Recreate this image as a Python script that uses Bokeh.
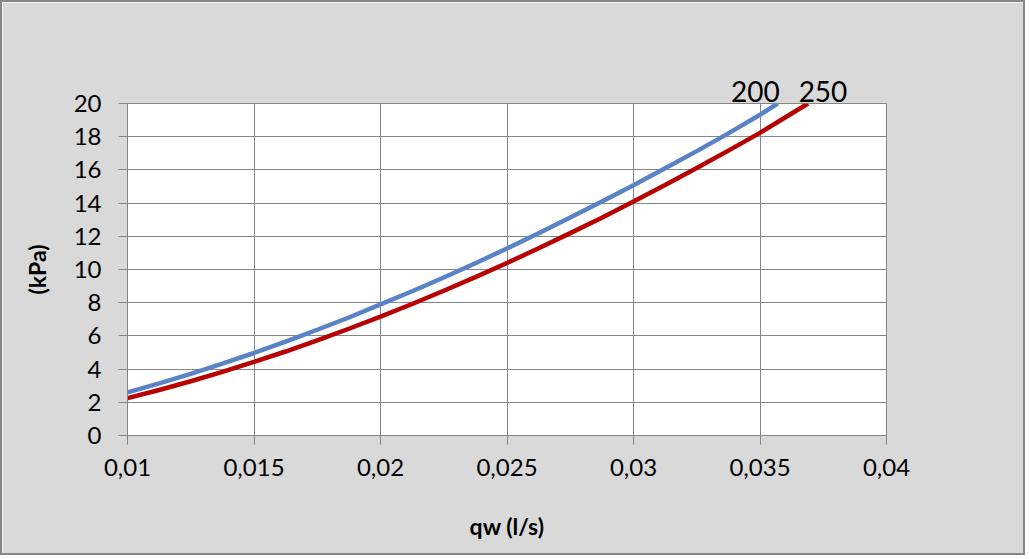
from bokeh.plotting import figure
from bokeh.models import FixedTicker, Range1d, LinearAxis
from bokeh.embed import file_html
from bokeh.resources import INLINE

# data
qw_200 = [0.01, 0.01125, 0.0125, 0.01375, 0.015, 0.01625, 0.0175, 0.01875, 0.02, 0.02125,
          0.0225, 0.02375, 0.025, 0.02625, 0.0275, 0.02875, 0.03, 0.03125, 0.0325, 0.03375,
          0.035, 0.0357]
kpa_200 = [2.6, 3.14, 3.71, 4.33, 4.97, 5.65, 6.37, 7.11, 7.9, 8.69,
           9.52, 10.38, 11.27, 12.18, 13.13, 14.09, 15.08, 16.1, 17.13, 18.2,
           19.32, 20.0]

qw_250 = [0.01, 0.01125, 0.0125, 0.01375, 0.015, 0.01625, 0.0175, 0.01875, 0.02, 0.02125,
          0.0225, 0.02375, 0.025, 0.02625, 0.0275, 0.02875, 0.03, 0.03125, 0.0325, 0.03375,
          0.035, 0.03625, 0.0369]
kpa_250 = [2.25, 2.74, 3.27, 3.83, 4.43, 5.06, 5.73, 6.43, 7.16, 7.92,
           8.72, 9.54, 10.39, 11.28, 12.19, 13.12, 14.09, 15.09, 16.11, 17.16,
           18.23, 19.4, 20.0]

series_names = ["200", "250"]
x_ticks = [0.01, 0.015, 0.02, 0.025, 0.03, 0.035, 0.04]
x_tick_labels = ["0,01", "0,015", "0,02", "0,025", "0,03", "0,035", "0,04"]
y_ticks = [0, 2, 4, 6, 8, 10, 12, 14, 16, 18, 20]
y_tick_labels = [str(v) for v in y_ticks]

FONT = "Lato"
GRID = "#868686"
BG = "#d9d9d9"

p = figure(width=1025, height=555, output_backend="svg", toolbar_location=None,
           x_range=Range1d(0.01, 0.04), y_range=Range1d(0, 20),
           min_border_left=125, min_border_right=141, min_border_top=101, min_border_bottom=122)
p.styles = {"border": "2px solid #868686"}
p.background_fill_color = "white"
p.border_fill_color = BG
p.outline_line_color = GRID
p.outline_line_width = 1

for ax in (p.xaxis[0], p.yaxis[0]):
    ax.axis_line_color = GRID
    ax.axis_line_width = 1
    ax.major_tick_line_color = GRID
    ax.major_tick_out = 9
    ax.major_tick_in = 0
    ax.minor_tick_line_color = None
    ax.major_label_text_font = FONT
    ax.major_label_text_font_size = "24px"
    ax.major_label_text_color = "black"
    ax.axis_label_text_font = FONT
    ax.axis_label_text_font_style = "bold"
    ax.axis_label_text_font_size = "23px"
    ax.axis_label_text_color = "black"

p.xaxis.ticker = FixedTicker(ticks=x_ticks)
p.xaxis.major_label_overrides = dict(zip(x_ticks, x_tick_labels))
p.yaxis.ticker = FixedTicker(ticks=y_ticks)
p.yaxis.major_label_overrides = dict(zip(y_ticks, y_tick_labels))
p.xaxis.axis_label = "qw (l/s)"
p.yaxis.axis_label = "(kPa)"
p.xaxis.major_label_standoff = 14
p.yaxis.major_label_standoff = 17
p.xaxis.axis_label_standoff = 33
p.yaxis.axis_label_standoff = 20

p.xgrid.grid_line_color = GRID
p.ygrid.grid_line_color = GRID
p.xgrid.ticker = FixedTicker(ticks=x_ticks)
p.ygrid.ticker = FixedTicker(ticks=y_ticks)

p.line(qw_200, kpa_200, line_color="#5A82C6", line_width=4.5)
p.line(qw_250, kpa_250, line_color="#B80000", line_width=4.5)

# series labels at the end of each curve, drawn as an axis above the frame
label_x = [qw_200[-1] - 0.00088, qw_250[-1] + 0.00059]
top_axis = LinearAxis(ticker=FixedTicker(ticks=label_x),
                      major_label_overrides=dict(zip(label_x, series_names)),
                      axis_line_color=None, major_tick_line_color=None,
                      minor_tick_line_color=None, major_tick_out=0, major_tick_in=0,
                      major_label_standoff=2, major_label_text_font=FONT,
                      major_label_text_font_size="28px", major_label_text_color="black")
p.add_layout(top_axis, "above")

open("out.html", "w").write(file_html(p, INLINE))
